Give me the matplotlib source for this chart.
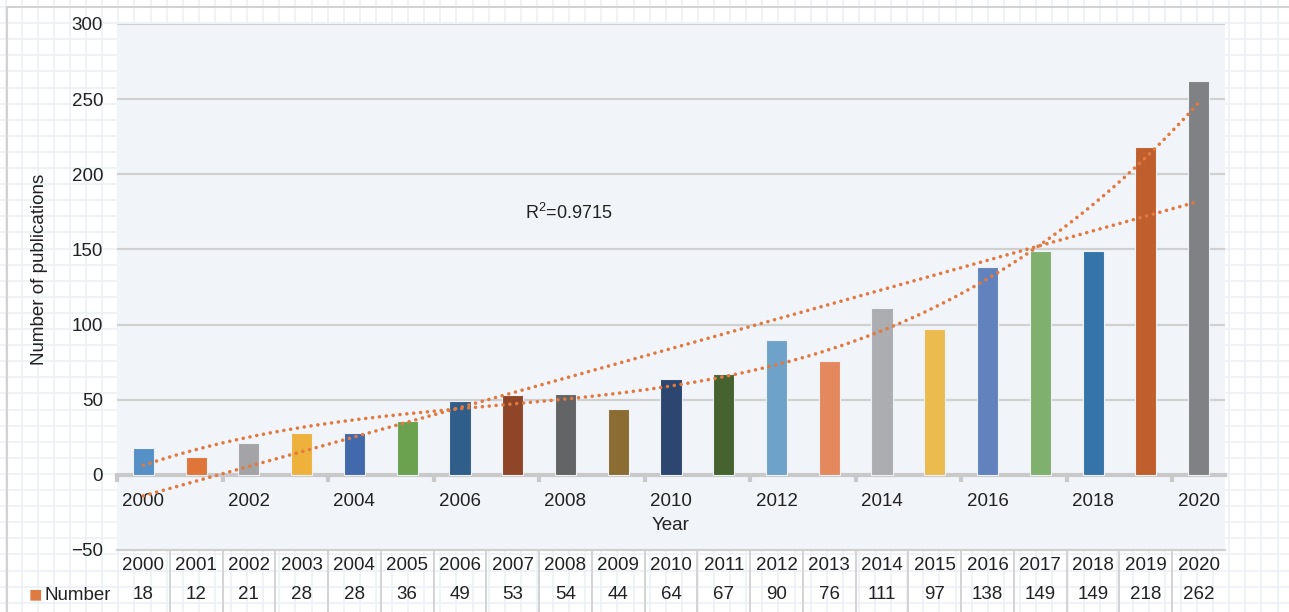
import numpy as np
import matplotlib
matplotlib.use("Agg")
import matplotlib.pyplot as plt
import matplotlib.transforms as mtransforms

plt.rcParams['font.family'] = ['Liberation Sans', 'DejaVu Sans']

years = [2000, 2001, 2002, 2003, 2004, 2005, 2006, 2007, 2008, 2009, 2010,
         2011, 2012, 2013, 2014, 2015, 2016, 2017, 2018, 2019, 2020]
counts = [18, 12, 21, 28, 28, 36, 49, 53, 54, 44, 64,
          67, 90, 76, 111, 97, 138, 149, 149, 218, 262]
bar_colors = ['#5590c6', '#df7539', '#a4a4a6', '#eeb23c', '#4169ac', '#6ba24f',
              '#2f5e8b', '#8e4528', '#626465', '#8b6d34', '#2c4670', '#46632f',
              '#6fa2c9', '#e3895d', '#acadb0', '#ebbb4f', '#6182bd', '#80b06d',
              '#3574a9', '#c05e2e', '#808184']
r2_label = 'R$^\\mathregular{2}$=0.9715'

W, H = 1289, 612
fig = plt.figure(figsize=(W / 100, H / 100), dpi=100)
fig.patch.set_facecolor('white')

# graph-paper background
bg = fig.add_axes([0, 0, 1, 1], zorder=-5)
bg.set_xlim(0, W)
bg.set_ylim(H, 0)
bg.axis('off')
for gx in np.arange(5.6, W, 16.1):
    bg.axvline(gx, color='#ebf0f7', lw=1.1)
for gy in np.arange(7, H, 16.1):
    bg.axhline(gy, color='#ebf0f7', lw=1.1)
bg.plot([7, 7], [7, H], color='#d2d2d2', lw=1.5)
bg.plot([7, W], [7, 7], color='#d2d2d2', lw=1.5)

ax = fig.add_axes([117 / W, 1 - 550 / H, 1108 / W, 526 / H])
ax.set_facecolor('#f1f4f9')
x = np.arange(len(years))

ax.set_ylim(-50, 300)
ax.set_xlim(-0.5, len(years) - 0.5)
ax.set_yticks([-50, 0, 50, 100, 150, 200, 250, 300])
ax.set_yticklabels(['\u221250', '0', '50', '100', '150', '200', '250', '300'])
for v in [50, 100, 150, 200, 250, 300]:
    ax.axhline(v, color='#d0d0d0', lw=1.6, zorder=1)
ax.axhline(-50, color='#d0d0d0', lw=1.6, zorder=1, clip_on=False)

ax.bar(x, counts, width=0.4, color=bar_colors, edgecolor='#eef1f5',
       linewidth=0.8, zorder=3)

# trendlines (Excel-style linear and 3rd-order polynomial)
lin = np.polyval(np.polyfit(x, counts, 1), x)
xs = np.linspace(0, len(years) - 1, 200)
cub = np.polyval(np.polyfit(x, counts, 3), xs)
ax.plot(x, lin, color='#e07a40', lw=2.6, linestyle=(0, (0.01, 1.9)),
        dash_capstyle='round', zorder=4)
ax.plot(xs, cub, color='#e07a40', lw=2.6, linestyle=(0, (0.01, 1.9)),
        dash_capstyle='round', zorder=4)
ax.text(7.23, 174, r2_label, fontsize=13, color='#222222', va='center', ha='left')

for s in ax.spines.values():
    s.set_visible(False)
ax.spines['bottom'].set_visible(True)
ax.spines['bottom'].set_position(('data', 0))
ax.spines['bottom'].set_color('#c9c9c9')
ax.spines['bottom'].set_linewidth(3.0)
ax.spines['bottom'].set_zorder(2)

ax.set_xticks(x[::2])
ax.set_xticklabels([str(y) for y in years[::2]], fontsize=13.5, color='#222222')
ax.set_xticks(np.arange(-0.5, len(years) - 1, 2), minor=True)
ax.tick_params(axis='x', which='major', length=0, pad=13)
ax.tick_params(axis='x', which='minor', length=5, width=3, color='#c9c9c9')
ax.tick_params(axis='y', length=0, pad=10, labelsize=13.5, labelcolor='#222222')
ax.text(10, -34, 'Year', fontsize=13.5, ha='center', va='center', color='#222222')

fig.text(40 / W, 1 - 269 / H, 'Number of publications', rotation=90,
         fontsize=13.5, ha='center', va='center', color='#222222')

# data table under the chart
tr = mtransforms.blended_transform_factory(ax.transData, ax.transAxes)
for i, (yr, c) in enumerate(zip(years, counts)):
    ax.text(i, -0.0304, str(yr), transform=tr, ha='center', va='center',
            fontsize=13.5, color='#222222', clip_on=False)
    ax.text(i, -0.0837, str(c), transform=tr, ha='center', va='center',
            fontsize=13.5, color='#222222', clip_on=False)
    if i > 0:
        ax.plot([i - 0.5, i - 0.5], [-0.004, -0.118], transform=tr,
                color='#d0d0d0', lw=1.3, clip_on=False)

fig.text(29 / W, 1 - 596 / H, '\u25a0', color='#dd7b41', fontsize=16,
         ha='left', va='center')
fig.text(45 / W, 1 - 596 / H, 'Number', fontsize=13.5, color='#222222',
         ha='left', va='center')

fig.savefig('out.png', dpi=100)
